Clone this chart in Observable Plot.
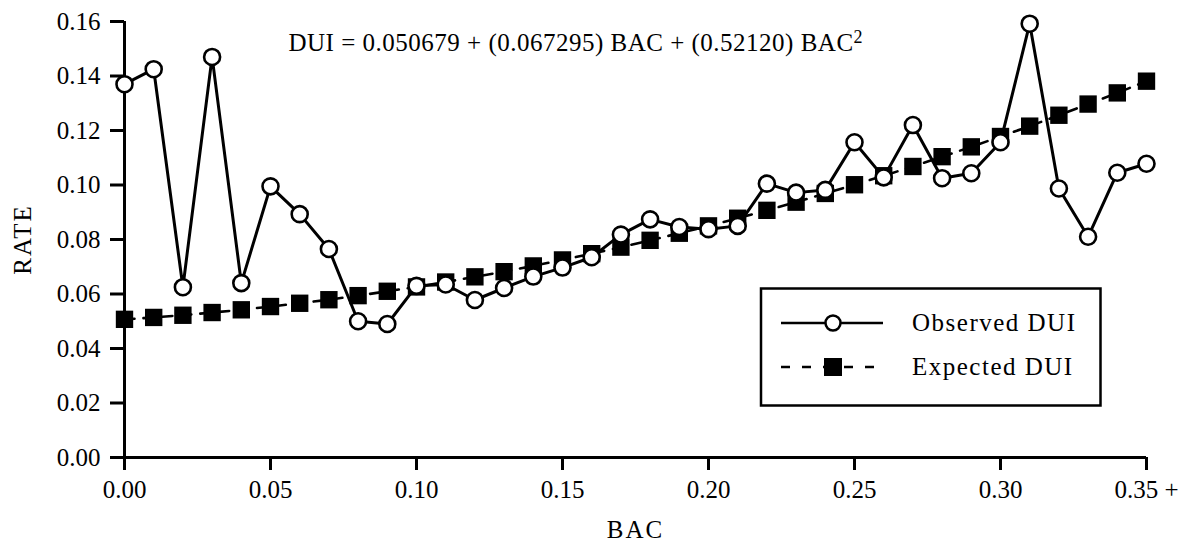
<!DOCTYPE html>
<html>
<head>
<meta charset="utf-8">
<script src="https://cdn.jsdelivr.net/npm/d3@7"></script>
<script src="https://cdn.jsdelivr.net/npm/@observablehq/plot@0.6"></script>
<style>
  html, body { margin: 0; padding: 0; background: #fff; }
  #chart { width: 1190px; height: 542px; }
</style>
</head>
<body>
<div id="chart"></div>
<script>
// ---- Data ----
const bac = [0.00, 0.01, 0.02, 0.03, 0.04, 0.05, 0.06, 0.07, 0.08, 0.09,
             0.10, 0.11, 0.12, 0.13, 0.14, 0.15, 0.16, 0.17, 0.18, 0.19,
             0.20, 0.21, 0.22, 0.23, 0.24, 0.25, 0.26, 0.27, 0.28, 0.29,
             0.30, 0.31, 0.32, 0.33, 0.34, 0.35];
const observedDUI = [0.1370, 0.1425, 0.0625, 0.1470, 0.0640, 0.0995, 0.0893, 0.0765, 0.0500, 0.0490,
                     0.0630, 0.0635, 0.0578, 0.0622, 0.0664, 0.0697, 0.0735, 0.0818, 0.0874, 0.0846,
                     0.0838, 0.0850, 0.1005, 0.0972, 0.0982, 0.1157, 0.1028, 0.1220, 0.1025, 0.1043,
                     0.1157, 0.1592, 0.0987, 0.0810, 0.1045, 0.1078];
const expectedDUI = [0.0507, 0.0514, 0.0522, 0.0532, 0.0542, 0.0554, 0.0566, 0.0579, 0.0594, 0.0610,
                     0.0626, 0.0644, 0.0663, 0.0682, 0.0703, 0.0725, 0.0748, 0.0772, 0.0797, 0.0823,
                     0.0850, 0.0878, 0.0907, 0.0937, 0.0969, 0.1001, 0.1034, 0.1068, 0.1104, 0.1140,
                     0.1178, 0.1216, 0.1256, 0.1297, 0.1338, 0.1381];
const xTicks = [0.00, 0.05, 0.10, 0.15, 0.20, 0.25, 0.30, 0.35];
const xTickLabels = ["0.00", "0.05", "0.10", "0.15", "0.20", "0.25", "0.30", "0.35 +"];
const yTicks = [0.00, 0.02, 0.04, 0.06, 0.08, 0.10, 0.12, 0.14, 0.16];
const yTickLabels = ["0.00", "0.02", "0.04", "0.06", "0.08", "0.10", "0.12", "0.14", "0.16"];
const seriesNames = ["Observed DUI", "Expected DUI"];
const xLabel = "BAC";
const yLabel = "RATE";
const formulaText = "DUI = 0.050679 + (0.067295) BAC + (0.52120) BAC";
const formulaSup = "2";

// ---- Build tables ----
const obsData = bac.map((x, i) => ({x, y: observedDUI[i]}));
const expData = bac.map((x, i) => ({x, y: expectedDUI[i]}));
const lookup = (ticks, labels) => d => labels[ticks.findIndex(t => Math.abs(t - d) < 1e-9)];

const FONT = '"Liberation Serif", "Times New Roman", serif';

const plot = Plot.plot({
  width: 1190,
  height: 542,
  marginLeft: 124,
  marginRight: 44,
  marginTop: 21,
  marginBottom: 85,
  style: {fontFamily: FONT, fontSize: "25px", color: "#000", background: "#fff", overflow: "visible"},
  x: {domain: [0, 0.35]},
  y: {domain: [0, 0.16]},
  marks: [
    Plot.axisY(yTicks, {tickSize: 14, tickPadding: 10, strokeWidth: 3, tickFormat: lookup(yTicks, yTickLabels), label: null}),
    Plot.axisX(xTicks, {tickSize: 13, tickPadding: 10, strokeWidth: 3, tickFormat: lookup(xTicks, xTickLabels), label: null}),
    Plot.ruleX([0], {stroke: "#000", strokeWidth: 3}),
    Plot.ruleY([0], {stroke: "#000", strokeWidth: 3}),
    Plot.line(expData, {x: "x", y: "y", stroke: "#000", strokeWidth: 2.6, strokeDasharray: "10,9"}),
    Plot.dot(expData, {x: "x", y: "y", symbol: "square", r: 9.8, fill: "#000", stroke: "none"}),
    Plot.line(obsData, {x: "x", y: "y", stroke: "#000", strokeWidth: 3}),
    Plot.dot(obsData, {x: "x", y: "y", r: 8, fill: "#fff", stroke: "#000", strokeWidth: 2.6}),
    Plot.text([yLabel], {frameAnchor: "left", dx: -102, rotate: -90, textAnchor: "middle", lineAnchor: "middle", fill: "#000"}),
    Plot.text([xLabel], {frameAnchor: "bottom", dy: 72, textAnchor: "middle", lineAnchor: "middle", fill: "#000"}),
    Plot.text([formulaText], {frameAnchor: "top-left", dx: 164, dy: 21, textAnchor: "start", lineAnchor: "middle", fill: "#000"})
  ]
});

document.getElementById("chart").appendChild(plot);

const svg = d3.select(plot);
// letter spacing to approximate the wider Palatino-like face
svg.selectAll("text").each(function() {
  const t = d3.select(this);
  const s = t.text();
  if (s === formulaText) {
    t.attr("letter-spacing", "0.5px");
    t.append("tspan").attr("dy", "-0.42em").attr("font-size", "18px").text(formulaSup);
  } else if (s === xLabel || s === yLabel) {
    t.attr("letter-spacing", "2px");
  }
});

// ---- Legend (inside the plot area, boxed) ----
const lg = svg.append("g").attr("font-family", FONT).attr("font-size", "25px").attr("text-anchor", "start");
lg.append("rect").attr("x", 761).attr("y", 288.5).attr("width", 339.5).attr("height", 117)
  .attr("fill", "#fff").attr("stroke", "#000").attr("stroke-width", 2.5);
const rows = [323, 367];
// Observed
lg.append("line").attr("x1", 781).attr("x2", 883).attr("y1", rows[0]).attr("y2", rows[0])
  .attr("stroke", "#000").attr("stroke-width", 2.5);
lg.append("circle").attr("cx", 833).attr("cy", rows[0]).attr("r", 7.5)
  .attr("fill", "#fff").attr("stroke", "#000").attr("stroke-width", 2.5);
// Expected
lg.append("line").attr("x1", 781).attr("x2", 883).attr("y1", rows[1]).attr("y2", rows[1])
  .attr("stroke", "#000").attr("stroke-width", 2.5).attr("stroke-dasharray", "9,12");
lg.append("rect").attr("x", 824).attr("y", rows[1] - 9).attr("width", 18).attr("height", 18).attr("fill", "#000");
seriesNames.forEach((name, i) => {
  lg.append("text").attr("x", 912).attr("y", rows[i]).attr("dy", "0.32em")
    .attr("text-anchor", "start").attr("letter-spacing", "1.5px").attr("fill", "#000").text(name);
});
</script>
</body>
</html>
